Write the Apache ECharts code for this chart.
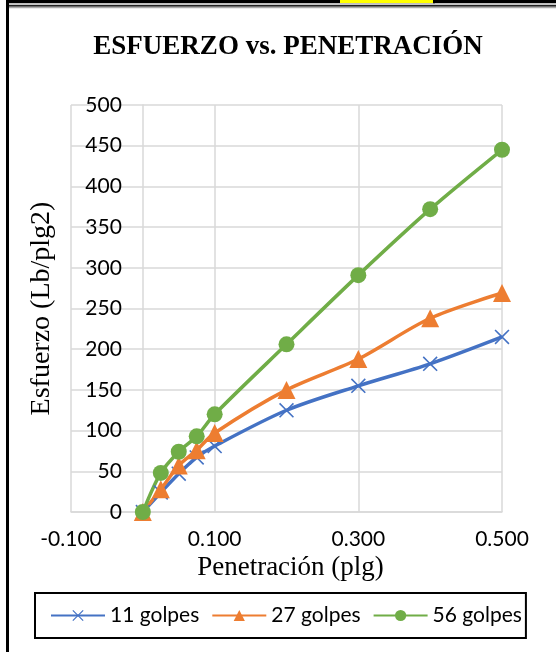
<!DOCTYPE html>
<html>
<head>
<meta charset="utf-8">
<script src="https://cdn.jsdelivr.net/npm/echarts@6/dist/echarts.min.js"></script>
<style>
html,body{margin:0;padding:0;background:#fff;}
#c{width:556px;height:652px;}
</style>
</head>
<body>
<div id="c"></div>
<script>
const penetracion = [0, 0.025, 0.05, 0.075, 0.1, 0.2, 0.3, 0.4, 0.5];
const golpes11 = [0, 24, 47, 67, 81, 125, 155, 182, 215];
const golpes27 = [0, 28, 57, 76, 97, 150, 188, 238, 269];
const golpes56 = [0, 48, 74, 93, 120, 206, 291, 372, 445];
const seriesNames = ['11 golpes', '27 golpes', '56 golpes'];
const titleText = 'ESFUERZO vs. PENETRACIÓN';
const xTitle = 'Penetración (plg)';
const yTitle = 'Esfuerzo (Lb/plg2)';

const pair = arr => penetracion.map((x, i) => [x, arr[i]]);
const crossPath = 'path://M1.5,0 L10,8.5 L18.5,0 L20,1.5 L11.5,10 L20,18.5 L18.5,20 L10,11.5 L1.5,20 L0,18.5 L8.5,10 L0,1.5 Z';
const sans = 'Lato';
const serif = 'Liberation Serif';

const gridLeft = 71, gridRight = 54;
const plotW = 556 - gridLeft - gridRight;
const xMin = -0.1, xMax = 0.5;
const yAxisShift = -plotW * (0 - xMin) / (xMax - xMin);

const chart = echarts.init(document.getElementById('c'), null, {renderer: 'canvas'});
chart.setOption({
  backgroundColor: '#fff',
  animation: false,
  title: {
    text: titleText,
    left: 283, top: 29,
    textAlign: 'center',
    textStyle: {fontFamily: serif, fontWeight: 'bold', fontSize: 27, color: '#000'}
  },
  grid: {left: gridLeft, right: gridRight, top: 105, bottom: 140, containLabel: false, outerBoundsMode: 'none'},
  xAxis: {
    type: 'value', min: xMin, max: xMax, interval: 0.2,
    axisLine: {show: true, lineStyle: {color: '#d9d9d9', width: 1.5}},
    axisTick: {show: false},
    axisLabel: {fontFamily: sans, fontSize: 21, color: '#000', margin: 17,
      formatter: v => (Math.round(v * 1000) / 1000).toFixed(3)},
    splitLine: {show: true, lineStyle: {color: '#d9d9d9', width: 1.5}},
    name: xTitle, nameLocation: 'middle', nameGap: 41,
    nameTextStyle: {fontFamily: serif, fontSize: 27, color: '#000', padding: [0, 0, 0, 8]}
  },
  yAxis: {
    type: 'value', min: 0, max: 500, interval: 50,
    offset: yAxisShift,
    axisLine: {show: true, onZero: false, lineStyle: {color: '#d9d9d9', width: 1.5}},
    axisTick: {show: false},
    axisLabel: {fontFamily: sans, fontSize: 21, color: '#000', margin: 21},
    splitLine: {show: true, lineStyle: {color: '#d9d9d9', width: 1.5}},
    name: yTitle, nameLocation: 'middle', nameGap: 87,
    nameTextStyle: {fontFamily: serif, fontSize: 28, color: '#000'}
  },
  legend: {
    left: 35, top: 593,
    itemWidth: 54, itemHeight: 14, itemGap: 12,
    padding: [12, 4, 12, 15],
    borderColor: '#000', borderWidth: 2,
    textStyle: {fontFamily: sans, fontSize: 21, color: '#000'},
    data: seriesNames
  },
  series: [
    {name: seriesNames[0], type: 'line', smooth: 0.3, data: pair(golpes11),
      symbol: crossPath, symbolSize: 15,
      lineStyle: {color: '#4472C4', width: 3.5}, itemStyle: {color: '#4472C4'}},
    {name: seriesNames[1], type: 'line', smooth: 0.3, data: pair(golpes27),
      symbol: 'triangle', symbolSize: 18,
      lineStyle: {color: '#ED7D31', width: 3.5}, itemStyle: {color: '#ED7D31'}},
    {name: seriesNames[2], type: 'line', smooth: 0.3, data: pair(golpes56),
      symbol: 'circle', symbolSize: 16,
      lineStyle: {color: '#70AD47', width: 3.5}, itemStyle: {color: '#70AD47'}}
  ],
  graphic: [
    {type: 'rect', shape: {x: 6, y: 0, width: 3, height: 652}, style: {fill: '#000'}, silent: true},
    {type: 'rect', shape: {x: 6, y: 0, width: 550, height: 3.3}, style: {fill: '#000'}, silent: true},
    {type: 'rect', shape: {x: 340, y: 0, width: 93, height: 3}, style: {fill: '#ffff00'}, silent: true},
    {type: 'rect', shape: {x: 433, y: 0, width: 2, height: 3.3}, style: {fill: '#000'}, silent: true},
    {type: 'rect', shape: {x: 9, y: 4.8, width: 547, height: 2}, style: {fill: '#222'}, silent: true},
    {type: 'rect', shape: {x: 9, y: 6.8, width: 547, height: 1.5}, style: {fill: '#aaa'}, silent: true}
  ]
});
</script>
</body>
</html>
